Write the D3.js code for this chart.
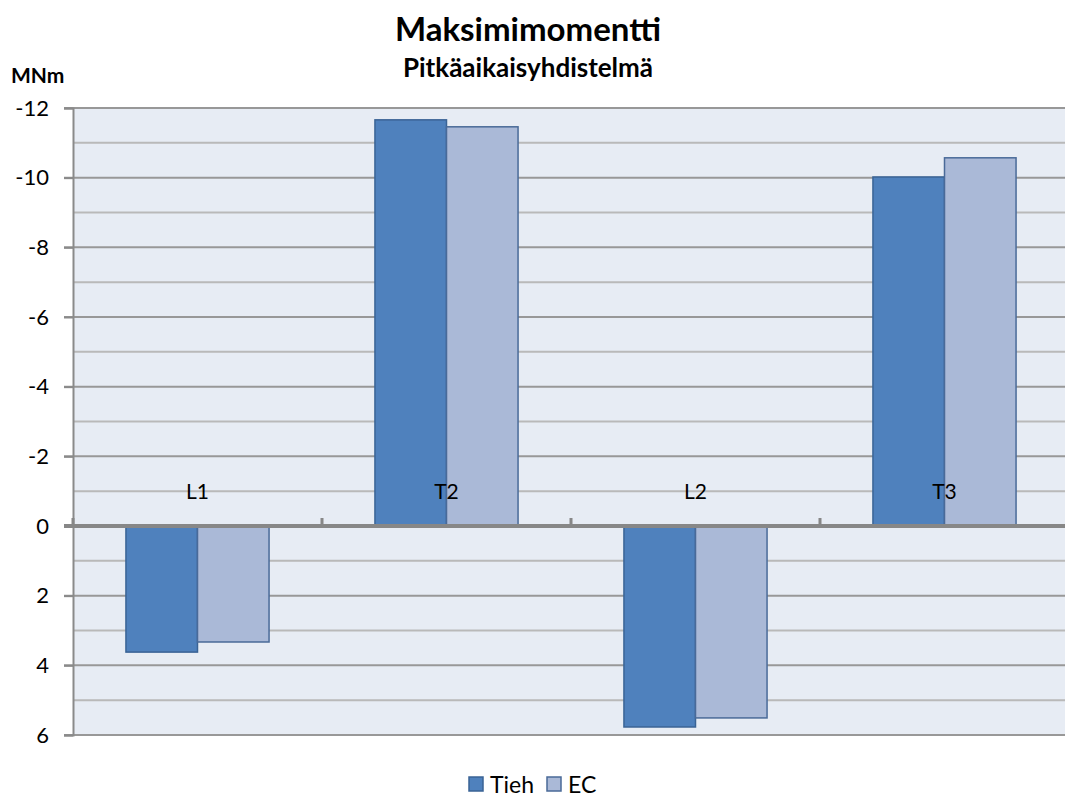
<!DOCTYPE html>
<html>
<head>
<meta charset="utf-8">
<script src="https://cdnjs.cloudflare.com/ajax/libs/d3/7.8.5/d3.min.js"></script>
<style>
  body { margin: 0; background: white; }
  text { font-family: Lato, "Liberation Sans", sans-serif; fill: #000; }
</style>
</head>
<body>
<script>
// chart data
var categories = ['L1', 'T2', 'L2', 'T3'];
var seriesNames = ['Tieh', 'EC'];
var tiehValues = [3.62, -11.66, 5.77, -10.02];
var ecValues = [3.33, -11.46, 5.51, -10.57];
var yTicks = [-12, -10, -8, -6, -4, -2, 0, 2, 4, 6];
var yMinorTicks = [-11, -9, -7, -5, -3, -1, 1, 3, 5];

var chart = {
  width: 1065,
  height: 797,
  left: 73,
  right: 1069,
  top: 108,
  bottom: 735
};
var colors = { Tieh: '#4F81BD', EC: '#AAB9D7' };
var strokes = { Tieh: '#3A6395', EC: '#4A6A98' };

var svg = d3.select('body').append('svg')
  .attr('width', chart.width)
  .attr('height', chart.height);

var x = d3.scaleBand()
  .domain(categories)
  .range([chart.left, chart.right])
  .paddingInner(0)
  .paddingOuter(0);

var xInner = d3.scaleBand()
  .domain(seriesNames)
  .range([0, x.bandwidth()])
  .paddingInner(0)
  .paddingOuter(0.74);

var y = d3.scaleLinear()
  .domain([-12, 6])
  .range([chart.top, chart.bottom]);

// plot background
svg.append('rect')
  .attr('x', chart.left)
  .attr('y', chart.top)
  .attr('width', chart.right - chart.left)
  .attr('height', chart.bottom - chart.top)
  .style('fill', '#E7ECF4');

// gridlines
svg.selectAll('.minor').data(yMinorTicks).enter().append('line')
  .attr('x1', chart.left).attr('x2', chart.right)
  .attr('y1', function(d) { return y(d); })
  .attr('y2', function(d) { return y(d); })
  .style('stroke', '#B9B9B9').style('stroke-width', 2);

svg.selectAll('.major').data(yTicks.filter(function(d) { return d !== 0; })).enter().append('line')
  .attr('x1', chart.left - 9).attr('x2', chart.right)
  .attr('y1', function(d) { return y(d); })
  .attr('y2', function(d) { return y(d); })
  .style('stroke', '#989898').style('stroke-width', 2);

// y axis
var yAxis = d3.axisLeft(y)
  .tickValues(yTicks)
  .tickSize(9)
  .tickPadding(15)
  .tickFormat(d3.format('d'));

var yg = svg.append('g')
  .attr('transform', 'translate(' + chart.left + ',0)')
  .call(yAxis);
yg.select('.domain').style('stroke', '#8A8A8A').style('stroke-width', 2);
yg.selectAll('.tick line').style('stroke', '#8A8A8A').style('stroke-width', 2);
yg.selectAll('.tick text')
  .style('font-family', 'Lato, "Liberation Sans", sans-serif')
  .style('font-size', '22px')
  .style('fill', '#000')
  .text(function(d) { return d < 0 ? '-' + Math.abs(d) : d; });

// bars
var rows = [];
categories.forEach(function(c, i) {
  rows.push({ cat: c, series: 'Tieh', value: tiehValues[i] });
  rows.push({ cat: c, series: 'EC', value: ecValues[i] });
});

svg.selectAll('.bar').data(rows).enter().append('rect')
  .attr('x', function(d) { return x(d.cat) + xInner(d.series); })
  .attr('width', xInner.bandwidth())
  .attr('y', function(d) { return Math.min(y(0), y(d.value)); })
  .attr('height', function(d) { return Math.abs(y(d.value) - y(0)); })
  .style('fill', function(d) { return colors[d.series]; })
  .style('stroke', function(d) { return strokes[d.series]; })
  .style('stroke-width', 1.5);

// x axis at zero
var xAxis = d3.axisTop(x).tickSize(0).tickFormat('');
var xg = svg.append('g')
  .attr('transform', 'translate(0,' + y(0) + ')')
  .call(xAxis);
xg.select('.domain').remove();
xg.append('line')
  .attr('x1', chart.left - 9).attr('x2', chart.right)
  .attr('y1', 0).attr('y2', 0)
  .style('stroke', '#878787').style('stroke-width', 4);

var boundaries = categories.map(function(c) { return x(c); });
xg.selectAll('.cattick').data(boundaries).enter().append('line')
  .attr('x1', function(d) { return d; })
  .attr('x2', function(d) { return d; })
  .attr('y1', 0).attr('y2', -8)
  .style('stroke', '#878787').style('stroke-width', 3);

svg.selectAll('.catlabel').data(categories).enter().append('text')
  .attr('x', function(d) { return x(d) + x.bandwidth() / 2; })
  .attr('y', 499)
  .attr('text-anchor', 'middle')
  .style('font-size', '21px')
  .text(function(d) { return d; });

// titles
svg.append('text')
  .attr('x', 528).attr('y', 41)
  .attr('text-anchor', 'middle')
  .style('font-size', '33px').style('font-weight', 'bold')
  .text('Maksimimomentti');

svg.append('text')
  .attr('x', 528).attr('y', 77)
  .attr('text-anchor', 'middle')
  .style('font-size', '26px').style('font-weight', 'bold')
  .text('Pitkäaikaisyhdistelmä');

svg.append('text')
  .attr('x', 11).attr('y', 83)
  .style('font-size', '21px').style('font-weight', 'bold')
  .text('MNm');

// legend
var legend = svg.append('g').attr('transform', 'translate(469,777)');
var legendX = [0, 78];
seriesNames.forEach(function(s, i) {
  var g = legend.append('g').attr('transform', 'translate(' + legendX[i] + ',0)');
  g.append('rect')
    .attr('width', 14).attr('height', 14)
    .style('fill', colors[s])
    .style('stroke', strokes[s]).style('stroke-width', 1.5);
  g.append('text')
    .attr('x', 21).attr('y', 16)
    .style('font-size', '23px')
    .text(s);
});
</script>
</body>
</html>
